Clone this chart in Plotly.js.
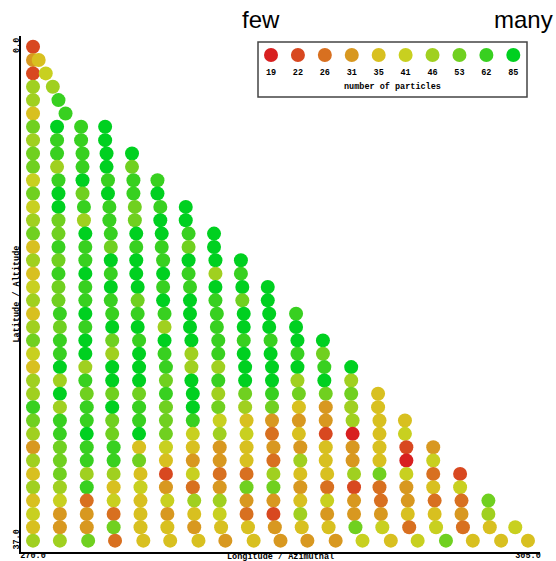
<!DOCTYPE html>
<html><head><meta charset="utf-8">
<script src="https://cdn.plot.ly/plotly-3.0.1.min.js"></script>
<style>html,body{margin:0;padding:0;background:#fff}#chart{width:556px;height:561px}</style>
</head><body><div id="chart"></div>
<script>
// ---- data ----
const particleCounts = [19, 22, 26, 31, 35, 41, 46, 53, 62, 85];
const levelColors = ['#d82020', '#d84820', '#d87020', '#d89820', '#d8c020',
                     '#c8d020', '#a0d020', '#70d020', '#38d020', '#00d020'];
const xTickVals = [270, 305];
const xTickText = ['270.0', '305.0'];
const yTickVals = [0, 37];
const yTickText = ['0.0', '37.0'];

const latRows = [0,1,2,3,4,5,6,7,8,9,10,11,12,13,14,15,16,17,18,19,20,21,22,23,24,25,26,27,28,29,30,31,32,33,34,35,36,37];

const lonR0 = [270];
const lonR1 = [270, 270.4];
const lonR2 = [270, 270.9];
const lonR3 = [270, 271.4];
const lonR4 = [270, 271.8];
const lonR5 = [270, 272.3];
const lonR6_7 = [270, 271.7, 273.4, 275.1];
const lonR8_9 = [270, 271.7, 273.5, 275.2, 277.0];
const lonR10_11 = [270, 271.8, 273.5, 275.3, 277.1, 278.8];
const lonR12_13 = [270, 271.8, 273.6, 275.4, 277.2, 279.0, 280.8];
const lonR14_15 = [270, 271.8, 273.7, 275.5, 277.3, 279.1, 281.0, 282.8];
const lonR16_17 = [270, 271.8, 273.7, 275.5, 277.3, 279.2, 281.0, 282.9, 284.7];
const lonR18_19 = [270, 271.8, 273.7, 275.5, 277.4, 279.2, 281.1, 282.9, 284.8, 286.6];
const lonR20_21 = [270, 271.9, 273.7, 275.6, 277.4, 279.3, 281.1, 283.0, 284.9, 286.7, 288.6];
const lonR22_23 = [270, 271.9, 273.7, 275.6, 277.5, 279.3, 281.2, 283.1, 284.9, 286.8, 288.7, 290.5];
const lonR24_25 = [270, 271.9, 273.7, 275.6, 277.5, 279.4, 281.2, 283.1, 285.0, 286.9, 288.7, 290.6, 292.5];
const lonR26_27 = [270, 271.9, 273.8, 275.6, 277.5, 279.4, 281.3, 283.1, 285.0, 286.9, 288.8, 290.7, 292.5, 294.4];
const lonR28_29 = [270, 271.9, 273.8, 275.6, 277.5, 279.4, 281.3, 283.2, 285.1, 286.9, 288.8, 290.7, 292.6, 294.5, 296.3];
const lonR30_31 = [270, 271.9, 273.8, 275.7, 277.5, 279.4, 281.3, 283.2, 285.1, 287.0, 288.9, 290.7, 292.6, 294.5, 296.4, 298.3];
const lonR32_33 = [270, 271.9, 273.8, 275.7, 277.6, 279.4, 281.3, 283.2, 285.1, 287.0, 288.9, 290.8, 292.7, 294.5, 296.4, 298.3, 300.2];
const lonR34_35 = [270, 271.9, 273.8, 275.7, 277.6, 279.5, 281.4, 283.2, 285.1, 287.0, 288.9, 290.8, 292.7, 294.6, 296.5, 298.4, 300.3, 302.2];
const lonR36 = [270, 271.9, 273.8, 275.7, 277.6, 279.5, 281.4, 283.3, 285.2, 287.1, 289.0, 290.9, 292.8, 294.7, 296.6, 298.5, 300.4, 302.3, 304.1];
const lonR37 = [270, 271.9, 273.9, 275.8, 277.8, 279.7, 281.7, 283.6, 285.6, 287.5, 289.4, 291.4, 293.3, 295.3, 297.2, 299.2, 301.1, 303.1, 305.0];

const lonByRow = [lonR0, lonR1, lonR2, lonR3, lonR4, lonR5,
  lonR6_7, lonR6_7, lonR8_9, lonR8_9, lonR10_11, lonR10_11, lonR12_13, lonR12_13,
  lonR14_15, lonR14_15, lonR16_17, lonR16_17, lonR18_19, lonR18_19, lonR20_21, lonR20_21,
  lonR22_23, lonR22_23, lonR24_25, lonR24_25, lonR26_27, lonR26_27, lonR28_29, lonR28_29,
  lonR30_31, lonR30_31, lonR32_33, lonR32_33, lonR34_35, lonR34_35, lonR36, lonR37];

// colour class (index into particleCounts) of every point, row by row
const levelByRow = [
  [1],
  [3,4],
  [1,5],
  [6,6],
  [6,8],
  [4,8],
  [7,9,8,9],
  [6,8,8,9],
  [7,8,8,9,9],
  [7,6,8,9,7],
  [5,8,9,8,8,8],
  [7,9,7,9,8,9],
  [5,9,8,8,7,8,9],
  [6,7,6,8,7,9,9],
  [7,7,9,8,9,9,8,9],
  [4,8,8,7,8,8,7,9],
  [6,7,8,9,9,8,9,9,9],
  [4,8,9,8,9,9,8,6,8],
  [5,7,8,9,9,8,8,9,9,9],
  [6,7,8,8,7,9,9,8,7,9],
  [4,8,9,8,8,8,9,8,9,9,8],
  [6,7,8,9,9,6,9,8,9,9,9],
  [7,8,9,7,8,9,9,8,8,8,9,9],
  [5,8,9,6,9,8,6,8,9,9,8,7],
  [4,9,6,9,9,8,6,6,9,9,9,8,9],
  [6,6,8,9,9,7,9,8,9,9,6,9,6],
  [6,9,7,7,7,8,9,6,7,8,7,7,7,4],
  [8,6,8,9,8,7,9,7,6,7,4,3,6,4],
  [7,8,8,7,8,7,8,5,4,3,3,3,6,4,4],
  [6,8,9,7,9,7,5,6,5,2,4,1,0,4,5],
  [3,7,8,8,4,5,4,3,4,3,3,4,3,4,1,3],
  [6,7,8,8,7,4,3,3,4,2,6,4,3,4,0,5],
  [4,7,6,6,4,1,5,2,2,6,4,4,6,7,5,2,1],
  [6,6,8,4,5,3,2,3,7,7,3,2,1,2,3,4,5],
  [4,5,2,5,4,5,6,6,3,3,4,5,3,2,3,2,2,7],
  [5,3,3,2,4,3,4,5,2,1,6,3,3,3,4,4,3,6],
  [4,3,3,7,4,4,3,4,4,3,4,4,7,5,2,5,2,4,5],
  [6,6,7,2,4,4,4,3,4,3,3,3,5,4,5,7,4,4,4]
];

// ---- build traces ----
const xs = [], ys = [], cs = [], nums = [];
lonByRow.forEach((row, r) => row.forEach((lon, i) => {
  const lev = levelByRow[r][i];
  xs.push(lon); ys.push(latRows[r]); cs.push(levelColors[lev]); nums.push(particleCounts[lev]);
}));

const MONO = {family: '"Liberation Mono", "DejaVu Sans Mono", monospace', size: 8.5, color: '#000', weight: 'bold'};
const SANS = {family: '"Liberation Sans", Arial, sans-serif', size: 24, color: '#000', weight: 'normal'};

const mainTrace = {
  type: 'scatter', mode: 'markers', x: xs, y: ys, text: nums,
  marker: {size: 14, color: cs, line: {width: 0}},
  xaxis: 'x', yaxis: 'y', showlegend: false, hoverinfo: 'x+y+text', cliponaxis: false
};
const legIdx = particleCounts.map((_, i) => i);
const legendMarks = {
  type: 'scatter', mode: 'markers', x: legIdx, y: legIdx.map(() => 42),
  marker: {size: 14, color: levelColors, line: {width: 0}},
  xaxis: 'x2', yaxis: 'y2', showlegend: false, hoverinfo: 'skip', cliponaxis: false
};
const legendText = {
  type: 'scatter', mode: 'text', x: legIdx, y: legIdx.map(() => 24),
  text: particleCounts.map(String), textfont: MONO, textposition: 'middle center',
  xaxis: 'x2', yaxis: 'y2', showlegend: false, hoverinfo: 'skip', cliponaxis: false
};

const W = 556, H = 561, L = 21, R = 16, T = 36, B = 9;
const pw = W - L - R, ph = H - T - B;
const px = v => (v - L) / pw;          // pixel -> paper x
const py = v => (H - B - v) / ph;      // pixel -> paper y

const layout = {
  width: W, height: H,
  margin: {l: L, r: R, t: T, b: B, pad: 0},
  paper_bgcolor: '#fff', plot_bgcolor: '#fff',
  font: MONO,
  xaxis: {
    range: [269.15, 305.85], showgrid: false, zeroline: false,
    showline: true, linewidth: 2, linecolor: '#000', ticks: '',
    tickvals: xTickVals, ticktext: xTickText, tickfont: MONO, automargin: false,
    ticklabelstandoff: -6
  },
  yaxis: {
    range: [37.85, -0.8], showgrid: false, zeroline: false,
    showline: true, linewidth: 2, linecolor: '#000', ticks: '',
    tickvals: yTickVals, ticktext: yTickText, tickfont: MONO, tickangle: -90, automargin: false,
    ticklabelstandoff: -3
  },
  xaxis2: {domain: [px(258), px(527)], range: [-0.483, 9.509], visible: false, fixedrange: true, anchor: 'y2'},
  yaxis2: {domain: [py(97), py(42)], range: [0, 55], visible: false, fixedrange: true, anchor: 'x2'},
  shapes: [{type: 'rect', xref: 'x2 domain', yref: 'y2 domain', x0: 0, x1: 1, y0: 0, y1: 1,
            line: {color: '#444', width: 1.5}, fillcolor: 'rgba(0,0,0,0)'}],
  annotations: [
    {text: 'few', xref: 'paper', yref: 'paper', x: px(260.5), y: py(20), showarrow: false,
     xanchor: 'center', yanchor: 'middle', font: SANS},
    {text: 'many', xref: 'paper', yref: 'paper', x: px(523.5), y: py(20), showarrow: false,
     xanchor: 'center', yanchor: 'middle', font: SANS},
    {text: 'number of particles', xref: 'x2 domain', yref: 'y2', x: 0.5, y: 10, showarrow: false,
     xanchor: 'center', yanchor: 'middle', font: MONO},
    {text: 'Longitude / Azimuthal', xref: 'paper', yref: 'paper', x: 0.5, y: py(556.5), showarrow: false,
     xanchor: 'center', yanchor: 'middle', font: MONO, borderpad: 0},
    {text: 'Latitude / Altitude', xref: 'paper', yref: 'paper', x: px(16.5), y: 0.5, showarrow: false,
     textangle: -90, xanchor: 'center', yanchor: 'middle', font: MONO, borderpad: 0}
  ]
};

Plotly.newPlot('chart', [mainTrace, legendMarks, legendText], layout, {displayModeBar: false, staticPlot: true});
</script>
</body></html>
